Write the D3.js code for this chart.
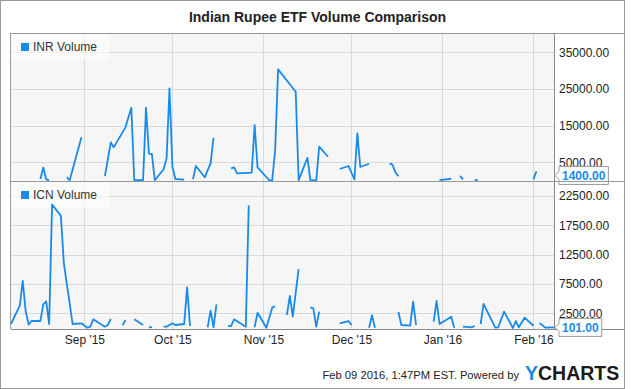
<!DOCTYPE html>
<html>
<head>
<meta charset="utf-8">
<script src="https://cdn.jsdelivr.net/npm/d3@7"></script>
<style>
body { margin: 0; background: #fff; }
svg { display: block; font-family: Arial, "Liberation Sans", sans-serif; }
</style>
</head>
<body>
<svg></svg>
<script>
'use strict';

var chartTitle = 'Indian Rupee ETF Volume Comparison';
var seriesNames = ['INR Volume', 'ICN Volume'];

// INR daily volume (null = break in the line)
var inrDates = [
    '2015-08-17', '2015-08-18', '2015-08-19', '2015-08-20', '2015-08-21', '2015-08-26', '2015-08-27', '2015-08-31',
    '2015-09-01', '2015-09-08', '2015-09-10', '2015-09-11', '2015-09-15', '2015-09-17', '2015-09-18', '2015-09-21',
    '2015-09-22', '2015-09-23', '2015-09-24', '2015-09-25', '2015-09-28', '2015-09-29', '2015-09-30',
    '2015-10-01', '2015-10-02', '2015-10-05', '2015-10-06', '2015-10-08', '2015-10-09', '2015-10-12', '2015-10-14',
    '2015-10-15', '2015-10-16', '2015-10-21', '2015-10-22', '2015-10-23', '2015-10-28', '2015-10-29', '2015-10-30',
    '2015-11-03', '2015-11-04', '2015-11-05', '2015-11-06', '2015-11-12', '2015-11-13', '2015-11-16', '2015-11-17',
    '2015-11-19', '2015-11-20', '2015-11-23', '2015-11-24', '2015-11-27', '2015-11-30',
    '2015-12-02', '2015-12-03', '2015-12-04', '2015-12-07', '2015-12-08', '2015-12-14', '2015-12-15', '2015-12-16',
    '2015-12-17', '2015-12-18', '2015-12-31',
    '2016-01-04', '2016-01-05', '2016-01-07', '2016-01-08', '2016-01-11', '2016-01-12', '2016-01-13', '2016-01-14',
    '2016-02-01', '2016-02-02', '2016-02-03', '2016-02-08'
];
var inrValues = [
    440, 3550, 350, 80, null, 980, 80, 11800,
    null, 1250, 10440, 9070, 14520, 19860, 150, 150,
    19860, 7330, 7250, 80, 3080, 6070, 25150,
    3790, 440, 250, null, 350, 3980, 900, 4710,
    11690, null, 3350, 3620, 1990, 2150, 15150, 3620,
    100, 60, 8340, 30330, 24220, 150, 6240, 80,
    80, 9240, 6510, null, 3160, 3980,
    350, 12890, 3700, 4600, null, 4700, 4300, 2200,
    1200, null, 150,
    500, null, 1300, 350, null, 120, 120, null,
    350, 2530, null, 1400
];

// ICN daily volume
var icnDates = [
    '2015-08-07', '2015-08-10', '2015-08-11', '2015-08-12', '2015-08-13', '2015-08-14', '2015-08-17', '2015-08-18',
    '2015-08-19', '2015-08-20', '2015-08-21', '2015-08-24', '2015-08-25', '2015-08-28', '2015-08-31',
    '2015-09-02', '2015-09-03', '2015-09-04', '2015-09-08', '2015-09-09', '2015-09-10', '2015-09-11', '2015-09-14',
    '2015-09-15', '2015-09-16', '2015-09-18', '2015-09-21', '2015-09-22', '2015-09-23', '2015-09-24', '2015-09-25',
    '2015-09-28', '2015-09-29',
    '2015-10-01', '2015-10-02', '2015-10-05', '2015-10-06', '2015-10-07', '2015-10-08', '2015-10-13', '2015-10-14',
    '2015-10-15', '2015-10-16', '2015-10-19', '2015-10-20', '2015-10-21', '2015-10-22', '2015-10-26', '2015-10-27',
    '2015-10-28', '2015-10-29', '2015-10-30',
    '2015-11-02', '2015-11-04', '2015-11-05', '2015-11-06', '2015-11-09', '2015-11-10', '2015-11-11', '2015-11-13',
    '2015-11-16', '2015-11-17', '2015-11-18', '2015-11-19', '2015-11-20', '2015-11-23', '2015-11-27', '2015-11-30',
    '2015-12-01', '2015-12-02', '2015-12-07', '2015-12-08', '2015-12-09', '2015-12-10', '2015-12-17', '2015-12-18',
    '2015-12-21', '2015-12-22', '2015-12-23', '2015-12-24', '2015-12-29', '2015-12-30', '2015-12-31',
    '2016-01-04', '2016-01-05', '2016-01-06', '2016-01-08', '2016-01-11', '2016-01-12', '2016-01-13', '2016-01-14',
    '2016-01-15', '2016-01-19', '2016-01-20', '2016-01-22', '2016-01-25', '2016-01-26', '2016-01-27', '2016-01-29',
    '2016-02-01', '2016-02-02', '2016-02-03', '2016-02-04', '2016-02-05', '2016-02-08'
];
var icnValues = [
    680, 3810, 8020, 2900, 570, 1190, 1190, 4040,
    4550, 680, 21050, 19110, 11040, 680, 800,
    50, 220, 1480, 220, 510, 1540, null, 460,
    1370, null, 1480, 510, null, 50, 200, null,
    220, 220,
    800, 510, 680, 6940, 340, null, 120, 2950,
    120, 4040, null, 340, 340, 1480, 220, 20870,
    null, 120, 2610,
    50, 3470, 3700, null, 2220, 5460, 1930, 10020,
    null, 3530, 3360, 220, 2780, null, 800, 1190,
    510, null, 50, 2170, 50, null, 2730, 510,
    390, 4490, 510, null, 1080, 4610, 680,
    1930, 50, null, 220, 120, 340, null, 680,
    4100, 50, 120, 2780, 0, 1190, 120, 1760,
    390, null, 800, 510, 50, 101
];

var inrTicks = [5000, 15000, 25000, 35000];
var icnTicks = [2500, 7500, 12500, 17500, 22500];
var monthTicks = ['2015-09-01', '2015-10-01', '2015-11-01', '2015-12-01', '2016-01-01', '2016-02-01'];
var monthLabels = ["Sep '15", "Oct '15", "Nov '15", "Dec '15", "Jan '16", "Feb '16"];
var footerText = 'Feb 09 2016, 1:47PM EST. Powered by';

function render() {
    var w = 635;
    var h = 389;
    var left = 11;
    var right = 554;
    var blue = '#1a8ae8';
    var parse = d3.timeParse('%Y-%m-%d');
    var f = d3.format('.2f');

    var svg = d3.select('svg').attr('width', w).attr('height', h);

    svg.append('rect').attr('x', 0.5).attr('y', 0.5).attr('width', 624).attr('height', h - 1)
        .attr('fill', '#fff').attr('stroke', '#9a9a9a');

    svg.append('text').attr('x', w / 2).attr('y', 22).attr('text-anchor', 'middle')
        .attr('font-size', 14).attr('font-weight', 'bold').attr('fill', '#222').text(chartTitle);

    var x = d3.scaleTime().domain([parse('2015-08-07'), parse('2016-02-08')]).range([left, right]);

    var panels = [
        { name: seriesNames[0], dates: inrDates, values: inrValues, ticks: inrTicks, top: 33, zero: 180.6, bottom: 181, max: 40250 },
        { name: seriesNames[1], dates: icnDates, values: icnValues, ticks: icnTicks, top: 181, zero: 328, bottom: 329, max: 25050 }
    ];

    panels.forEach(function (p) {
        var g = svg.append('g');
        var y = d3.scaleLinear().domain([0, p.max]).range([p.zero, p.top]);

        g.append('rect').attr('x', left).attr('y', p.top).attr('width', right - left).attr('height', p.bottom - p.top)
            .attr('fill', '#f6f6f6');

        // grid
        g.selectAll('.hgrid').data(p.ticks).enter().append('line')
            .attr('x1', left).attr('x2', right)
            .attr('y1', function (d) { return Math.round(y(d)) + 0.5; })
            .attr('y2', function (d) { return Math.round(y(d)) + 0.5; })
            .attr('stroke', '#d9d9d9');
        g.selectAll('.vgrid').data(monthTicks).enter().append('line')
            .attr('x1', function (d) { return Math.round(x(parse(d))) + 0.5; })
            .attr('x2', function (d) { return Math.round(x(parse(d))) + 0.5; })
            .attr('y1', p.top).attr('y2', p.bottom)
            .attr('stroke', '#d9d9d9');

        // legend
        g.append('rect').attr('x', left).attr('y', p.top + 0.5).attr('width', 98).attr('height', 26)
            .attr('fill', '#fff').attr('fill-opacity', 0.6);
        g.append('rect').attr('x', 21).attr('y', p.top + 10).attr('width', 8).attr('height', 8).attr('fill', blue);
        g.append('text').attr('x', 33).attr('y', p.top + 18).attr('font-size', 12).attr('fill', '#333').text(p.name);

        // series
        var pts = p.dates.map(function (d, i) { return { date: parse(d), v: p.values[i] }; });
        var line = d3.line()
            .defined(function (d) { return d.v !== null; })
            .x(function (d) { return x(d.date); })
            .y(function (d) { return y(d.v); });
        g.append('path').datum(pts).attr('d', line)
            .attr('fill', 'none').attr('stroke', blue).attr('stroke-width', 1.8).attr('stroke-linejoin', 'round');

        // right axis labels
        var axis = g.append('g').attr('transform', 'translate(' + right + ',0)')
            .call(d3.axisRight(y).tickValues(p.ticks).tickSize(0).tickPadding(5).tickFormat(f));
        axis.select('.domain').remove();
        axis.selectAll('text').attr('font-size', 12).attr('fill', '#222')
            .attr('font-family', 'Arial, "Liberation Sans", sans-serif');

        // frame
        g.append('line').attr('x1', left).attr('x2', 624).attr('y1', p.top + 0.5).attr('y2', p.top + 0.5).attr('stroke', '#999');
        g.append('line').attr('x1', left).attr('x2', 624).attr('y1', p.bottom + 0.5).attr('y2', p.bottom + 0.5).attr('stroke', '#8a8a8a');
        g.append('line').attr('x1', left - 0.5).attr('x2', left - 0.5).attr('y1', p.top).attr('y2', p.bottom).attr('stroke', '#999');
        g.append('line').attr('x1', right + 0.5).attr('x2', right + 0.5).attr('y1', p.top).attr('y2', p.bottom + 1).attr('stroke', '#8a8a8a');

        // last value flag
        var last = p.values[p.values.length - 1];
        var ly = y(last);
        var flag = g.append('g');
        var txt = flag.append('text').attr('x', 562).attr('y', ly).attr('dy', '0.36em')
            .attr('font-size', 12).attr('font-weight', 'bold').attr('fill', blue).text(f(last));
        var tw = txt.node().getComputedTextLength();
        var bx = 559, bw = tw + 6;
        flag.insert('path', 'text')
            .attr('d', 'M' + (right + 1) + ',' + ly + 'L' + bx + ',' + (ly - 4) + 'L' + bx + ',' + (ly - 9) +
                'L' + (bx + bw) + ',' + (ly - 9) + 'L' + (bx + bw) + ',' + (ly + 9) + 'L' + bx + ',' + (ly + 9) +
                'L' + bx + ',' + (ly + 4) + 'Z')
            .attr('fill', '#fff').attr('stroke', '#999');
    });

    // month labels
    var xa = svg.append('g').attr('transform', 'translate(0,' + 335.5 + ')')
        .call(d3.axisBottom(x).tickValues(monthTicks.map(parse)).tickSize(0).tickPadding(0)
            .tickFormat(function (d, i) { return monthLabels[i]; }));
    xa.select('.domain').remove();
    xa.selectAll('text').attr('font-size', 12).attr('fill', '#222')
        .attr('font-family', 'Arial, "Liberation Sans", sans-serif');

    // footer
    svg.append('text').attr('x', 519).attr('y', 379).attr('text-anchor', 'end')
        .attr('font-size', 11.2).attr('fill', '#222').text(footerText);
    var logo = svg.append('text').attr('x', 525).attr('y', 379.5).attr('font-size', 19.5).attr('font-weight', 'bold');
    logo.append('tspan').attr('fill', '#1a8ae8').text('Y');
    logo.append('tspan').attr('fill', '#1b1b1b').text('CHARTS');
}

render();
</script>
</body>
</html>
